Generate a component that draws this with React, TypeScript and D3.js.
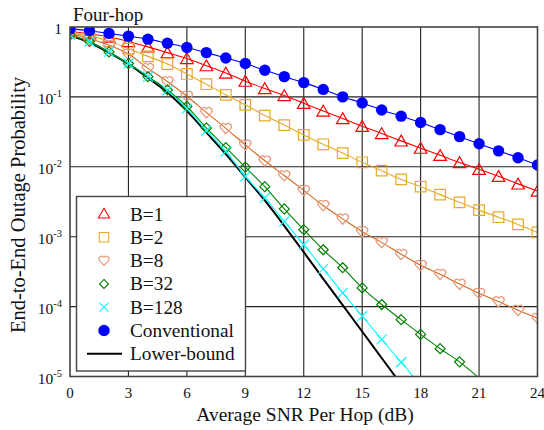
import React, { useEffect, useRef } from 'react';
import * as d3 from 'd3';

const snr = d3.range(0, 25);

const conventional = [0.94, 0.886, 0.81, 0.74, 0.67, 0.585, 0.51, 0.43, 0.36, 0.30, 0.24, 0.195, 0.16, 0.128, 0.10, 0.082, 0.065, 0.053, 0.043, 0.034, 0.027, 0.0214, 0.0169, 0.0135, 0.0106];
const b1 = [0.87, 0.8, 0.72, 0.62, 0.52, 0.43, 0.355, 0.28, 0.22, 0.168, 0.132, 0.105, 0.081, 0.063, 0.049, 0.038, 0.030, 0.0235, 0.0185, 0.0146, 0.0115, 0.0092, 0.0073, 0.0057, 0.0045];
const b2 = [0.83, 0.74, 0.63, 0.49, 0.38, 0.295, 0.213, 0.152, 0.107, 0.077, 0.054, 0.0395, 0.0286, 0.021, 0.0157, 0.0116, 0.0088, 0.0066, 0.0052, 0.004, 0.0031, 0.0024, 0.0019, 0.0015, 0.00115];
const b8 = [0.81, 0.68, 0.55, 0.41, 0.256, 0.166, 0.102, 0.06, 0.0355, 0.0206, 0.0122, 0.0075, 0.0046, 0.0028, 0.0018, 0.00118, 0.00083, 0.00056, 0.00039, 0.00029, 0.00021, 0.000155, 0.000118, 0.000089, 0.000068];
const b32 = [0.77, 0.62, 0.44, 0.30, 0.195, 0.126, 0.073, 0.036, 0.0188, 0.0099, 0.0052, 0.0025, 0.00126, 0.00065, 0.00036, 0.000185, 0.000107, 0.000065, 0.00004, 0.000025, 0.0000162, 0.0000095];
const b128 = [0.77, 0.62, 0.44, 0.30, 0.195, 0.124, 0.068, 0.033, 0.0166, 0.0073, 0.0036, 0.00166, 0.00077, 0.000346, 0.000157, 0.000073, 0.000034, 0.000016, 0.0000075];
const lowerBound = [0.76, 0.6, 0.43, 0.295, 0.188, 0.116, 0.063, 0.031, 0.0152, 0.0071, 0.0033, 0.00143, 0.0006, 0.00025, 0.000105, 0.000044, 0.0000184, 0.0000077];

const xTicks = [0, 3, 6, 9, 12, 15, 18, 21, 24];
const yTicks = [1, 1e-1, 1e-2, 1e-3, 1e-4, 1e-5];
const legendLabels = ['B=1', 'B=2', 'B=8', 'B=32', 'B=128', 'Conventional', 'Lower-bound'];

// marker path strings, centred at 0,0
const heartPath = 'M0,5.4 L-5,0 A2.65,2.65 0 0 1 0,-3.5 A2.65,2.65 0 0 1 5,0 Z';
const diamondPath = 'M0,-5 L5,0 L0,5 L-5,0 Z';
const crossPath = 'M-5,-5 L5,5 M-5,5 L5,-5';
const triPath = d3.symbol(d3.symbolTriangle, 68)() as string;
const squarePath = d3.symbol(d3.symbolSquare, 112)() as string;

export default function App() {
  const ref = useRef<SVGSVGElement>(null);

  useEffect(() => {
    const svg = d3.select(ref.current);
    svg.selectAll('*').remove();

    const x = d3.scaleLinear().domain([0, 24]).range([70, 537.5]);
    const y = d3.scaleLog().domain([1e-5, 1]).range([376.5, 27]);

    svg.append('defs').append('clipPath').attr('id', 'plotclip')
      .append('rect').attr('x', 70).attr('y', 27).attr('width', 467.5).attr('height', 349.5);

    // grid
    const grid = svg.append('g');
    grid.selectAll('line.vx').data(xTicks.slice(1, -1)).join('line')
      .attr('x1', d => x(d)).attr('x2', d => x(d)).attr('y1', 27).attr('y2', 376.5)
      .attr('stroke', '#222').attr('stroke-width', 1.1);
    grid.selectAll('line.hy').data(yTicks.slice(1, -1)).join('line')
      .attr('x1', 70).attr('x2', 537.5).attr('y1', d => y(d)).attr('y2', d => y(d))
      .attr('stroke', '#222').attr('stroke-width', 1.1);

    const series = [
      { data: b1, line: '#ff0000', mark: '#ff0000', path: triPath, dy: 1.5, fill: 'none' },
      { data: b2, line: '#e6aa28', mark: '#e6aa28', path: squarePath, dy: 0, fill: 'none' },
      { data: b8, line: '#d2691e', mark: '#e9967a', path: heartPath, dy: 0, fill: 'none' },
      { data: b32, line: '#008000', mark: '#008000', path: diamondPath, dy: 0, fill: 'none' },
      { data: b128, line: '#00ffff', mark: '#00ffff', path: crossPath, dy: 0, fill: 'none' },
      { data: conventional, line: '#0000ff', mark: '#0000ff', path: 'circle', dy: 0, fill: '#0000ff' },
    ];

    const plot = svg.append('g').attr('clip-path', 'url(#plotclip)');
    const lineGen = d3.line<number>().x((_, i) => x(snr[i])).y(d => y(d)).curve(d3.curveMonotoneX);

    plot.append('path').datum(lowerBound).attr('d', lineGen)
      .attr('fill', 'none').attr('stroke', '#000').attr('stroke-width', 2);

    // draw in reverse so conventional ends on top like the reference
    [...series].reverse().forEach(s => {
      plot.append('path').datum(s.data).attr('d', lineGen)
        .attr('fill', 'none').attr('stroke', s.line).attr('stroke-width', 1.1);
    });
    series.forEach(s => {
      const pts = s.data.map((v, i) => ({ v, i })).filter(p => p.v >= 1e-5);
      const g = plot.append('g');
      if (s.path === 'circle') {
        g.selectAll('circle').data(pts).join('circle')
          .attr('cx', p => x(snr[p.i])).attr('cy', p => y(p.v)).attr('r', 5.7)
          .attr('fill', s.fill);
      } else {
        g.selectAll('path').data(pts).join('path')
          .attr('d', s.path)
          .attr('transform', p => `translate(${x(snr[p.i])},${y(p.v) + s.dy})`)
          .attr('fill', s.fill).attr('stroke', s.mark).attr('stroke-width', 1.2);
      }
    });

    // frame
    svg.append('rect').attr('x', 70).attr('y', 27).attr('width', 467.5).attr('height', 349.5)
      .attr('fill', 'none').attr('stroke', '#444').attr('stroke-width', 1.6);

    // axes labels
    svg.append('g').selectAll('text').data(xTicks).join('text')
      .attr('x', d => x(d)).attr('y', 398).attr('text-anchor', 'middle')
      .attr('font-size', 15).attr('fill', '#111')
      .text(d => d);

    const yl = svg.append('g').selectAll('text').data(yTicks).join('text')
      .attr('x', 62).attr('y', d => y(d) + 7).attr('text-anchor', 'end')
      .attr('font-size', 15.5).attr('fill', '#111');
    yl.each(function (d) {
      const t = d3.select(this);
      if (d === 1) { t.text('1'); return; }
      t.append('tspan').text('10');
      t.append('tspan').attr('font-size', 10.5).attr('dy', -7).text(String(Math.round(Math.log10(d))));
    });

    svg.append('text').attr('x', 305).attr('y', 421).attr('text-anchor', 'middle')
      .attr('font-size', 19.5).attr('fill', '#111')
      .text('Average SNR Per Hop (dB)');
    svg.append('text').attr('transform', 'translate(25,205) rotate(-90)').attr('text-anchor', 'middle')
      .attr('font-size', 20.5).attr('fill', '#111')
      .text('End-to-End Outage Probability');
    svg.append('text').attr('x', 73).attr('y', 20.5)
      .attr('font-size', 19).attr('fill', '#111')
      .text('Four-hop');

    // legend
    const lg = svg.append('g');
    lg.append('rect').attr('x', 76.5).attr('y', 196.5).attr('width', 169).attr('height', 174.5)
      .attr('fill', '#fff').attr('stroke', '#444').attr('stroke-width', 1.4);
    const rowY = (i: number) => 214 + i * 23.3;
    legendLabels.forEach((lab, i) => {
      const cy = rowY(i);
      if (i < 6) {
        const s = series[i];
        if (s.path === 'circle') {
          lg.append('circle').attr('cx', 104).attr('cy', cy).attr('r', 5.7).attr('fill', s.fill);
        } else {
          lg.append('path').attr('d', s.path).attr('transform', `translate(104,${cy + s.dy * 0.5}) scale(0.9)`)
            .attr('fill', 'none').attr('stroke', s.mark).attr('stroke-width', 1.2);
        }
      } else {
        lg.append('line').attr('x1', 87).attr('x2', 122).attr('y1', cy).attr('y2', cy)
          .attr('stroke', '#000').attr('stroke-width', 2);
      }
      lg.append('text').attr('x', 130).attr('y', cy + 6.5)
        .attr('font-size', 19.3).attr('fill', '#111').text(lab);
    });
  }, []);

  return (
    <svg ref={ref} width={544} height={430}
      style={{ position: 'absolute', left: 0, top: 0, background: '#fff', fontFamily: 'Liberation Serif' }} />
  );
}
